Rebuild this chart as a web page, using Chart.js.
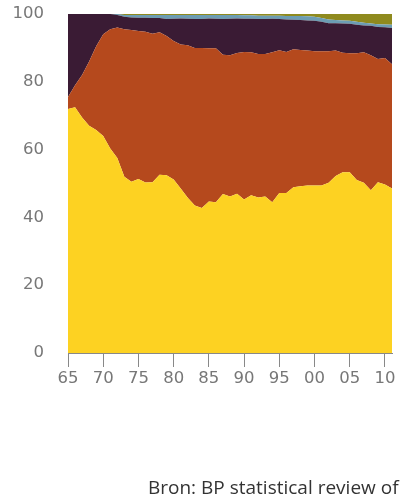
<!DOCTYPE html>
<html>
<head>
<meta charset="utf-8">
<script src="https://cdn.jsdelivr.net/npm/chart.js@4"></script>
<style>
  html, body { margin: 0; padding: 0; background: #fff; }
  #wrap { position: relative; width: 401px; height: 495px; }
  #source {
    position: absolute; left: 148px; top: 475px;
    font-family: "Open Sans", sans-serif; font-size: 19px; color: #333;
    white-space: nowrap; line-height: 24px;
  }
</style>
</head>
<body>
<div id="wrap">
  <canvas id="chart" width="401" height="495"></canvas>
  <div id="source">Bron: BP statistical review of</div>
</div>
<script>
// Years on the x axis
const years = [1965,1966,1967,1968,1969,1970,1971,1972,1973,1974,1975,1976,1977,1978,1979,
  1980,1981,1982,1983,1984,1985,1986,1987,1988,1989,1990,1991,1992,1993,1994,1995,1996,
  1997,1998,1999,2000,2001,2002,2003,2004,2005,2006,2007,2008,2009,2010,2011];

// Share per layer (%), bottom to top
const yellowShare = [72,72.5,69.5,67,65.8,64,60.3,57.5,52,50.5,51.3,50.3,50.4,52.6,52.4,
  51.2,48.5,45.8,43.5,42.8,44.7,44.5,46.9,46.2,47,45.3,46.5,45.9,46.2,44.5,47.2,47.2,
  48.9,49.2,49.4,49.4,49.4,50.2,52.2,53.3,53.3,51,50.2,48,50.4,49.7,48.5];
const orangeShare = [3.5,6.5,12.5,19,24.7,30,35.2,38.5,43.5,44.8,43.7,44.5,43.8,42,41.1,
  40.8,42.5,45,46.5,47.2,45.2,45.4,41.1,41.6,41.5,43.5,42.2,42.3,42,44.2,42.1,41.6,
  40.7,40.2,39.8,39.6,39.6,38.8,37,35.3,35.1,37.4,38.5,39.8,36.3,37.3,36.7];
const purpleShare = [24.5,21,18,14,9.5,6,4.5,3.7,3.7,3.7,3.9,4.1,4.6,4.2,5,
  6.6,7.7,7.8,8.5,8.5,8.8,8.7,10.5,10.8,10.2,9.8,9.9,10.3,10.3,9.9,9.2,9.6,
  8.7,8.8,8.9,9,8.7,8.3,8.1,8.6,8.7,8.4,7.9,8.7,9.5,9.1,10.7];
const blueShare = [0,0,0,0,0,0,0,0.3,0.5,0.7,0.8,0.8,0.9,0.9,1.2,
  1.1,1.0,1.1,1.2,1.2,1.0,1.1,1.2,1.1,1.0,1.0,1.0,1.0,1.0,0.9,1.0,1.0,
  1.1,1.2,1.2,1.2,1.1,1.1,0.9,0.9,0.9,0.9,0.8,0.7,0.8,0.8,0.9];
const oliveShare = [0,0,0,0,0,0,0,0,0.3,0.3,0.3,0.3,0.3,0.3,0.3,
  0.3,0.3,0.3,0.3,0.3,0.3,0.3,0.3,0.3,0.3,0.4,0.4,0.5,0.5,0.5,0.5,0.6,
  0.6,0.6,0.7,0.8,1.2,1.6,1.8,1.9,2.0,2.3,2.6,2.8,3.0,3.1,3.2];

// Y tick labels
const yTicks = [0, 20, 40, 60, 80, 100];

function layer(values, color, fill) {
  return {
    data: years.map((y, i) => ({ x: y, y: values[i] })),
    backgroundColor: color,
    borderColor: color,
    borderWidth: 0,
    pointRadius: 0,
    tension: 0,
    fill: fill
  };
}

const tickFont = { family: 'DejaVu Sans', size: 16.5 };

const ctx = document.getElementById('chart').getContext('2d');
new Chart(ctx, {
  type: 'line',
  data: {
    datasets: [
      layer(yellowShare, '#fdd222', 'origin'),
      layer(orangeShare, '#b5491d', '-1'),
      layer(purpleShare, '#3a1b34', '-1'),
      layer(blueShare, '#6c9db3', '-1'),
      layer(oliveShare, '#8f8a1e', '-1')
    ]
  },
  options: {
    responsive: false,
    animation: false,
    layout: { padding: { left: 0, top: 14, right: 9, bottom: 0 } },
    plugins: { legend: { display: false }, tooltip: { enabled: false } },
    scales: {
      x: {
        type: 'linear',
        min: 1965,
        max: 2011,
        afterBuildTicks: (scale) => {
          scale.ticks = years.filter(y => y % 5 === 0).map(v => ({ value: v }));
        },
        afterFit: (scale) => { scale.height = 142; },
        grid: { drawOnChartArea: false, drawTicks: true, tickLength: 14, color: '#888' },
        border: { color: '#888', width: 1 },
        ticks: {
          autoSkip: false,
          maxRotation: 0,
          padding: 2,
          color: '#777',
          font: tickFont,
          callback: (v) => String(v % 100).padStart(2, '0')
        }
      },
      y: {
        stacked: true,
        min: 0,
        max: 100,
        afterBuildTicks: (scale) => {
          scale.ticks = yTicks.map(v => ({ value: v }));
        },
        afterFit: (scale) => { scale.width = 68; },
        grid: {
          drawTicks: true,
          tickLength: 22,
          tickColor: 'rgba(0,0,0,0)',
          color: (c) => (c.tick && c.tick.value === 100 ? '#bbb' : 'rgba(0,0,0,0)')
        },
        border: { display: false },
        ticks: {
          padding: 2,
          color: '#777',
          font: tickFont
        }
      }
    }
  }
});
</script>
</body>
</html>
